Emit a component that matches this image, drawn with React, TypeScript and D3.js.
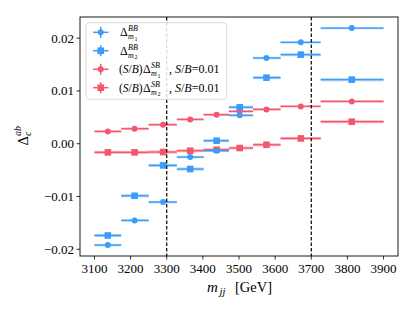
import * as d3 from "d3";
import React from "react";

// bin edges and point positions (m_jj, GeV)
const binLo = [3100, 3174, 3250, 3328, 3402, 3472, 3539, 3615, 3726];
const binHi = [3174, 3250, 3328, 3402, 3472, 3539, 3615, 3726, 3900];
const binCenter = [3137, 3211, 3290, 3365, 3438, 3502, 3576, 3671, 3812];

const bbM1 = [-0.0192, -0.01453, -0.01106, -0.00253, -0.00133, 0.00537, 0.01624, 0.0192, 0.0219];
const bbM2 = [-0.01738, -0.00986, -0.00411, -0.0048, 0.00057, 0.0069, 0.01251, 0.01687, 0.01213];
const sbM1 = [0.00233, 0.00284, 0.0036, 0.0046, 0.0055, 0.00613, 0.0065, 0.00707, 0.008];
const sbM2 = [-0.00164, -0.00164, -0.00158, -0.00133, -0.00114, -0.00082, -0.0002, 0.001, 0.00417];

const xTicks = [3100, 3200, 3300, 3400, 3500, 3600, 3700, 3800, 3900];
const yTicks = [-0.02, -0.01, 0, 0.01, 0.02];
const cuts = [3300, 3700];

const BLUE = "#3d9cf7";
const RED = "#f5566c";
const FONT = "'Liberation Serif', 'DejaVu Serif', serif";

const W = 415, H = 312;
const m = { left: 80, right: 398, top: 17, bottom: 256 };

const x = d3.scaleLinear().domain([3060, 3940]).range([m.left, m.right]);
const y = d3.scaleLinear().domain([-0.02127, 0.024]).range([m.bottom, m.top]);

type Series = { vals: number[]; color: string; square: boolean };
const series: Series[] = [
  { vals: sbM2, color: RED, square: true },
  { vals: sbM1, color: RED, square: false },
  { vals: bbM2, color: BLUE, square: true },
  { vals: bbM1, color: BLUE, square: false },
];

function Marker({ cx, cy, color, square }: { cx: number; cy: number; color: string; square: boolean }) {
  return square ? (
    <rect x={cx - 3.3} y={cy - 3.3} width={6.6} height={6.6} fill={color} />
  ) : (
    <circle cx={cx} cy={cy} r={3} fill={color} />
  );
}

function fmt(v: number) {
  const s = Math.abs(v).toFixed(2);
  return v < 0 ? "\u2212" + s : s;
}

export default function App() {
  const legendItems = [
    { color: BLUE, square: false, sup: "BB", sub: "1", pre: false },
    { color: BLUE, square: true, sup: "BB", sub: "2", pre: false },
    { color: RED, square: false, sup: "SB", sub: "1", pre: true },
    { color: RED, square: true, sup: "SB", sub: "2", pre: true },
  ];
  const legY = [32.3, 50.7, 69.3, 87.7];

  return (
    <div style={{ position: "absolute", left: 0, top: 0 }}>
      <svg width={W} height={H} style={{ display: "block", fontFamily: FONT }}>
        <rect width={W} height={H} fill="white" />

        {/* data */}
        {series.map((s, si) => (
          <g key={si}>
            {s.vals.map((v, i) => (
              <g key={i}>
                <line x1={x(binLo[i])} x2={x(binHi[i])} y1={y(v)} y2={y(v)}
                  stroke={s.color} strokeWidth={s.square ? 3 : 2.4} opacity={0.45} />
                <line x1={x(binLo[i])} x2={x(binHi[i])} y1={y(v)} y2={y(v)}
                  stroke={s.color} strokeWidth={1.3} />
                <Marker cx={x(binCenter[i])} cy={y(v)} color={s.color} square={s.square} />
              </g>
            ))}
          </g>
        ))}

        {/* cut lines */}
        {cuts.map(c => (
          <line key={c} x1={x(c)} x2={x(c)} y1={m.top} y2={m.bottom}
            stroke="black" strokeWidth={1.2} strokeDasharray="3.5,2" />
        ))}

        {/* frame */}
        <rect x={m.left} y={m.top} width={m.right - m.left} height={m.bottom - m.top}
          fill="none" stroke="black" strokeWidth={0.9} />

        {/* x axis */}
        {xTicks.map(t => (
          <g key={t}>
            <line x1={x(t)} x2={x(t)} y1={m.bottom} y2={m.bottom + 3.5} stroke="black" strokeWidth={0.8} />
            <text x={x(t)} y={m.bottom + 17} textAnchor="middle" fontSize={13}>{t}</text>
          </g>
        ))}
        <text x={207} y={292} fontSize={15} fontStyle="italic">m</text>
        <text x={219.5} y={295} fontSize={10.5} fontStyle="italic">jj</text>
        <text x={235} y={292} fontSize={14.5}>[GeV]</text>

        {/* y axis */}
        {yTicks.map(t => (
          <g key={t}>
            <line x1={m.left - 3.5} x2={m.left} y1={y(t)} y2={y(t)} stroke="black" strokeWidth={0.8} />
            <text x={m.left - 6} y={y(t) + 4.5} textAnchor="end" fontSize={13}>{fmt(t)}</text>
          </g>
        ))}
        <g transform={`translate(28,${(m.top + m.bottom) / 2}) rotate(-90)`}>
          <text x={-9} y={0} fontSize={14.5}>Δ</text>
          <text x={0.5} y={3} fontSize={10} fontStyle="italic">c</text>
          <text x={0.5} y={-7} fontSize={10} fontStyle="italic">ab</text>
        </g>

        {/* legend */}
        <rect x={86} y={22.7} width={140.7} height={76.6} rx={3} fill="white" fillOpacity={0.85}
          stroke="#d0d0d0" strokeWidth={0.8} />
        {legendItems.map((it, i) => {
          const ly = legY[i];
          const dX = it.pre ? 143 : 120;
          return (
            <g key={i}>
              <line x1={93} x2={108.5} y1={ly} y2={ly} stroke={it.color} strokeWidth={1.5} />
              <line x1={100.7} x2={100.7} y1={ly - 5.5} y2={ly + 5.5} stroke={it.color} strokeWidth={1.5} />
              <Marker cx={100.7} cy={ly} color={it.color} square={it.square} />
              {it.pre && (
                <text x={119} y={ly + 4} fontSize={11.5}>
                  (<tspan fontStyle="italic">S</tspan>/<tspan fontStyle="italic">B</tspan>)
                </text>
              )}
              <text x={dX} y={ly + 4} fontSize={12}>Δ</text>
              <text x={dX + 8} y={ly - 1} fontSize={8} fontStyle="italic">{it.sup}</text>
              <text x={dX + 8} y={ly + 7} fontSize={8} fontStyle="italic">m</text>
              <text x={dX + 14.5} y={ly + 8.5} fontSize={6}>{it.sub}</text>
              {it.pre && (
                <text x={dX + 26} y={ly + 4} fontSize={12}>
                  , <tspan fontStyle="italic">S</tspan>/<tspan fontStyle="italic">B</tspan>=0.01
                </text>
              )}
            </g>
          );
        })}
      </svg>
    </div>
  );
}
